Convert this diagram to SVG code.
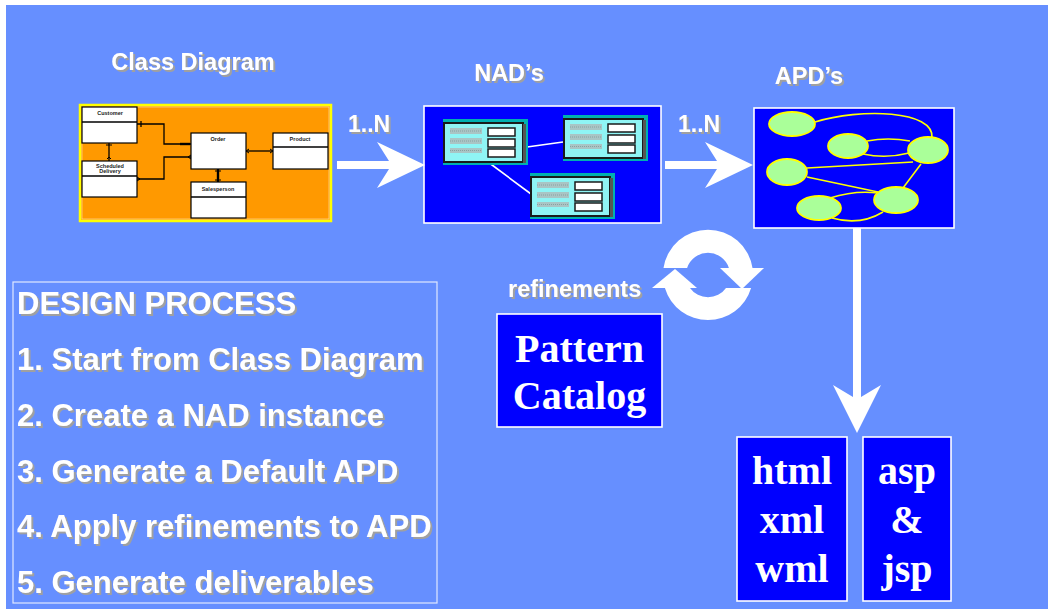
<svg xmlns="http://www.w3.org/2000/svg" xmlns:xlink="http://www.w3.org/1999/xlink" width="1048" height="609" viewBox="0 0 1048 609">
  <defs>
    <style>
      .lbl { font-family: "Liberation Sans", Arial, sans-serif; font-weight: bold; fill: #ffffff; }
      .serif { font-family: "Liberation Serif", "Times New Roman", serif; font-weight: bold; fill: #ffffff; }
      .cls { fill: #ffffff; stroke: #000000; stroke-width: 1.2; }
      .clsname { font-family: "Liberation Sans", Arial, sans-serif; font-weight: bold; font-size: 5.5px; fill: #222222; text-anchor: middle; }
      .assoc { fill: none; stroke: #000000; stroke-width: 1.3; }
      .panel { fill: #0000ff; stroke: #ffffff; stroke-width: 1.6; }
      .node { fill: #aaff99; stroke: #ffff00; stroke-width: 1.8; }
      .link { fill: none; stroke: #ffff00; stroke-width: 1.6; }
      .nadlink { fill: none; stroke: #ffffff; stroke-width: 1.6; }
      .bigarrow { fill: #ffffff; }
      .row { fill: #a9c4c4; }
      .bar { fill: #ffffff; stroke: #1a1a1a; stroke-width: 1.5; }
    </style>
    <filter id="shadow" x="-5%" y="-20%" width="115%" height="150%">
      <feDropShadow dx="2" dy="2" stdDeviation="0.6" flood-color="#a0a0a0" flood-opacity="1"/>
    </filter>
    <!-- navigation-model table glyph -->
    <g id="navtable">
      <rect x="0" y="0" width="85" height="46" fill="#00b0b0"/>
      <rect x="1" y="4" width="79" height="39" fill="#8ff4f4" stroke="#1a1a1a" stroke-width="2"/>
      <rect x="80" y="5" width="3" height="39" fill="#555555"/>
      <rect class="row" x="7" y="9" width="32" height="6"/>
      <rect class="row" x="7" y="19" width="32" height="6"/>
      <rect class="row" x="7" y="29" width="32" height="5"/>
      <path d="M7,12 h32 M7,22 h32 M7,31.5 h32" stroke="#8aa0a0" stroke-width="1" stroke-dasharray="1 1"/>
      <rect class="bar" x="45" y="9" width="27" height="8"/>
      <rect class="bar" x="45" y="20" width="27" height="8"/>
      <rect class="bar" x="45" y="30" width="27" height="8"/>
    </g>
  </defs>

  <!-- page background -->
  <rect x="0" y="0" width="1048" height="609" fill="#ffffff"/>
  <rect x="6" y="5" width="1042" height="604" fill="#668fff"/>

  <!-- stage labels -->
  <g class="lbl" filter="url(#shadow)">
    <text x="193" y="70" font-size="23.5" text-anchor="middle">Class Diagram</text>
    <text x="509" y="81" font-size="23.5" text-anchor="middle">NAD’s</text>
    <text x="809" y="84" font-size="23.5" text-anchor="middle">APD’s</text>
    <text x="348" y="132" font-size="23">1..N</text>
    <text x="678" y="132" font-size="23">1..N</text>
    <text x="508" y="297" font-size="23.5">refinements</text>
  </g>

  <!-- class diagram -->
  <g id="class-diagram">
    <rect x="80" y="105" width="251" height="116" fill="#ff9900" stroke="#ffff00" stroke-width="2.5"/>
    <rect x="82" y="107" width="247" height="112" fill="none" stroke="#ffffff" stroke-width="0.6" opacity="0.7"/>
    <g id="cls-customer">
      <rect class="cls" x="82" y="107" width="55" height="36"/>
      <line class="assoc" x1="82" y1="122" x2="137" y2="122"/>
      <text class="clsname" x="110" y="115">Customer</text>
    </g>
    <g id="cls-scheduled">
      <rect class="cls" x="82" y="161" width="55" height="36"/>
      <line class="assoc" x1="82" y1="176" x2="137" y2="176"/>
      <text class="clsname" x="110" y="168">Scheduled</text>
      <text class="clsname" x="110" y="173">Delivery</text>
    </g>
    <g id="cls-order">
      <rect class="cls" x="191" y="133" width="55" height="36"/>
      <text class="clsname" x="218" y="141">Order</text>
    </g>
    <g id="cls-product">
      <rect class="cls" x="273" y="133" width="55" height="36"/>
      <line class="assoc" x1="273" y1="147" x2="328" y2="147"/>
      <text class="clsname" x="300" y="141">Product</text>
    </g>
    <g id="cls-salesperson">
      <rect class="cls" x="191" y="182" width="55" height="36"/>
      <line class="assoc" x1="191" y1="197" x2="246" y2="197"/>
      <text class="clsname" x="218" y="191">Salesperson</text>
    </g>
    <g id="class-associations">
      <polyline class="assoc" points="137,124 164,124 164,144 191,144"/>
      <line x1="141" y1="121" x2="141" y2="127" stroke="#000" stroke-width="1.3"/>
      <line x1="180" y1="144" x2="190" y2="144" stroke="#000" stroke-width="2.4"/>
      <polyline class="assoc" points="137,179 164,179 164,157 191,157"/>
      <path d="M137,177 l3,2 l-3,2 M191,155 l-3,2 l3,2" fill="none" stroke="#000" stroke-width="1"/>
      <line class="assoc" x1="109" y1="143" x2="109" y2="161"/>
      <path d="M106,145 h6 M107,159 l2,-2 l2,2" fill="none" stroke="#000" stroke-width="1"/>
      <line class="assoc" x1="246" y1="151" x2="273" y2="151"/>
      <path d="M249,149 l-3,2 l3,2 M270,149 l3,2 l-3,2" fill="none" stroke="#000" stroke-width="1"/>
      <line x1="218" y1="169" x2="218" y2="182" stroke="#000" stroke-width="2.4"/>
      <path d="M215,171 h6 M215,180 h6" fill="none" stroke="#000" stroke-width="1"/>
    </g>
  </g>

  <!-- navigation access diagrams -->
  <g id="nad">
    <rect class="panel" x="424" y="106" width="237" height="117"/>
    <line class="nadlink" x1="527" y1="147" x2="563" y2="142"/>
    <line class="nadlink" x1="488" y1="162" x2="531" y2="194"/>
    <use xlink:href="#navtable" x="443" y="119"/>
    <use xlink:href="#navtable" x="563" y="115"/>
    <use xlink:href="#navtable" x="530" y="173"/>
  </g>

  <!-- abstract presentation diagrams -->
  <g id="apd">
    <rect class="panel" x="754" y="108" width="200" height="120"/>
    <path class="link" d="M815,122 C860,108 935,110 932,138"/>
    <path class="link" d="M867,141 Q888,137 910,141"/>
    <path class="link" d="M863,154 Q886,159 909,153"/>
    <line class="link" x1="807" y1="168" x2="913" y2="162"/>
    <line class="link" x1="807" y1="177" x2="878" y2="192"/>
    <line class="link" x1="921" y1="164" x2="903" y2="188"/>
    <path class="link" d="M830,198 Q855,190 878,193"/>
    <path class="link" d="M832,218 Q860,226 883,212"/>
    <ellipse class="node" cx="792" cy="124" rx="23" ry="12"/>
    <ellipse class="node" cx="848" cy="146" rx="20" ry="12"/>
    <ellipse class="node" cx="928" cy="150" rx="20" ry="13"/>
    <ellipse class="node" cx="787" cy="172" rx="20" ry="13"/>
    <ellipse class="node" cx="896" cy="200" rx="22" ry="13"/>
    <ellipse class="node" cx="819" cy="208" rx="22" ry="12"/>
  </g>

  <!-- flow arrows -->
  <g id="connectors">
    <polygon class="bigarrow" points="337,161 389,161 377,142 425,165 377,188 389,169 337,169"/>
    <polygon class="bigarrow" points="665,161 717,161 705,142 753,165 705,188 717,169 665,169"/>
    <polygon class="bigarrow" points="853,228 861,228 861,397 881,385 857,433 833,385 853,397"/>
  </g>

  <!-- refinement cycle -->
  <g id="refine-cycle" fill="#ffffff">
    <path d="M663.5,268 A45,45 0 0 1 752.5,268 L728.9,268 A22,22 0 0 0 687.1,268 Z"/>
    <polygon points="720,268 764,268 742,289"/>
    <path d="M751.1,288 A45,45 0 0 1 664.9,288 L690,288 A22,22 0 0 0 726,288 Z"/>
    <polygon points="652,288 697,288 675,269"/>
  </g>

  <g id="pattern-catalog">
    <rect class="panel" x="497" y="314" width="165" height="113"/>
    <text class="serif" x="579.5" y="362" font-size="40" text-anchor="middle">Pattern</text>
    <text class="serif" x="579.5" y="409" font-size="40" text-anchor="middle">Catalog</text>
  </g>

  <g id="output-markup">
    <rect class="panel" x="737" y="437" width="110" height="164"/>
    <text class="serif" x="792" y="484" font-size="40" text-anchor="middle">html</text>
    <text class="serif" x="792" y="533" font-size="40" text-anchor="middle">xml</text>
    <text class="serif" x="792" y="582" font-size="40" text-anchor="middle">wml</text>
  </g>

  <g id="output-pages">
    <rect class="panel" x="863" y="437" width="88" height="164"/>
    <text class="serif" x="907" y="484" font-size="40" text-anchor="middle">asp</text>
    <text class="serif" x="907" y="533" font-size="40" text-anchor="middle">&amp;</text>
    <text class="serif" x="907" y="582" font-size="40" text-anchor="middle">jsp</text>
  </g>

  <g id="design-process">
    <rect x="13" y="282" width="424" height="321" fill="none" stroke="#e0e8ff" stroke-width="1.2"/>
    <g class="lbl" font-size="31" filter="url(#shadow)">
      <text x="17" y="314">DESIGN PROCESS</text>
      <text x="17" y="370">1. Start from Class Diagram</text>
      <text x="17" y="426">2. Create a NAD instance</text>
      <text x="17" y="482">3. Generate a Default APD</text>
      <text x="17" y="537">4. Apply refinements to APD</text>
      <text x="17" y="593">5. Generate deliverables</text>
    </g>
  </g>
</svg>
